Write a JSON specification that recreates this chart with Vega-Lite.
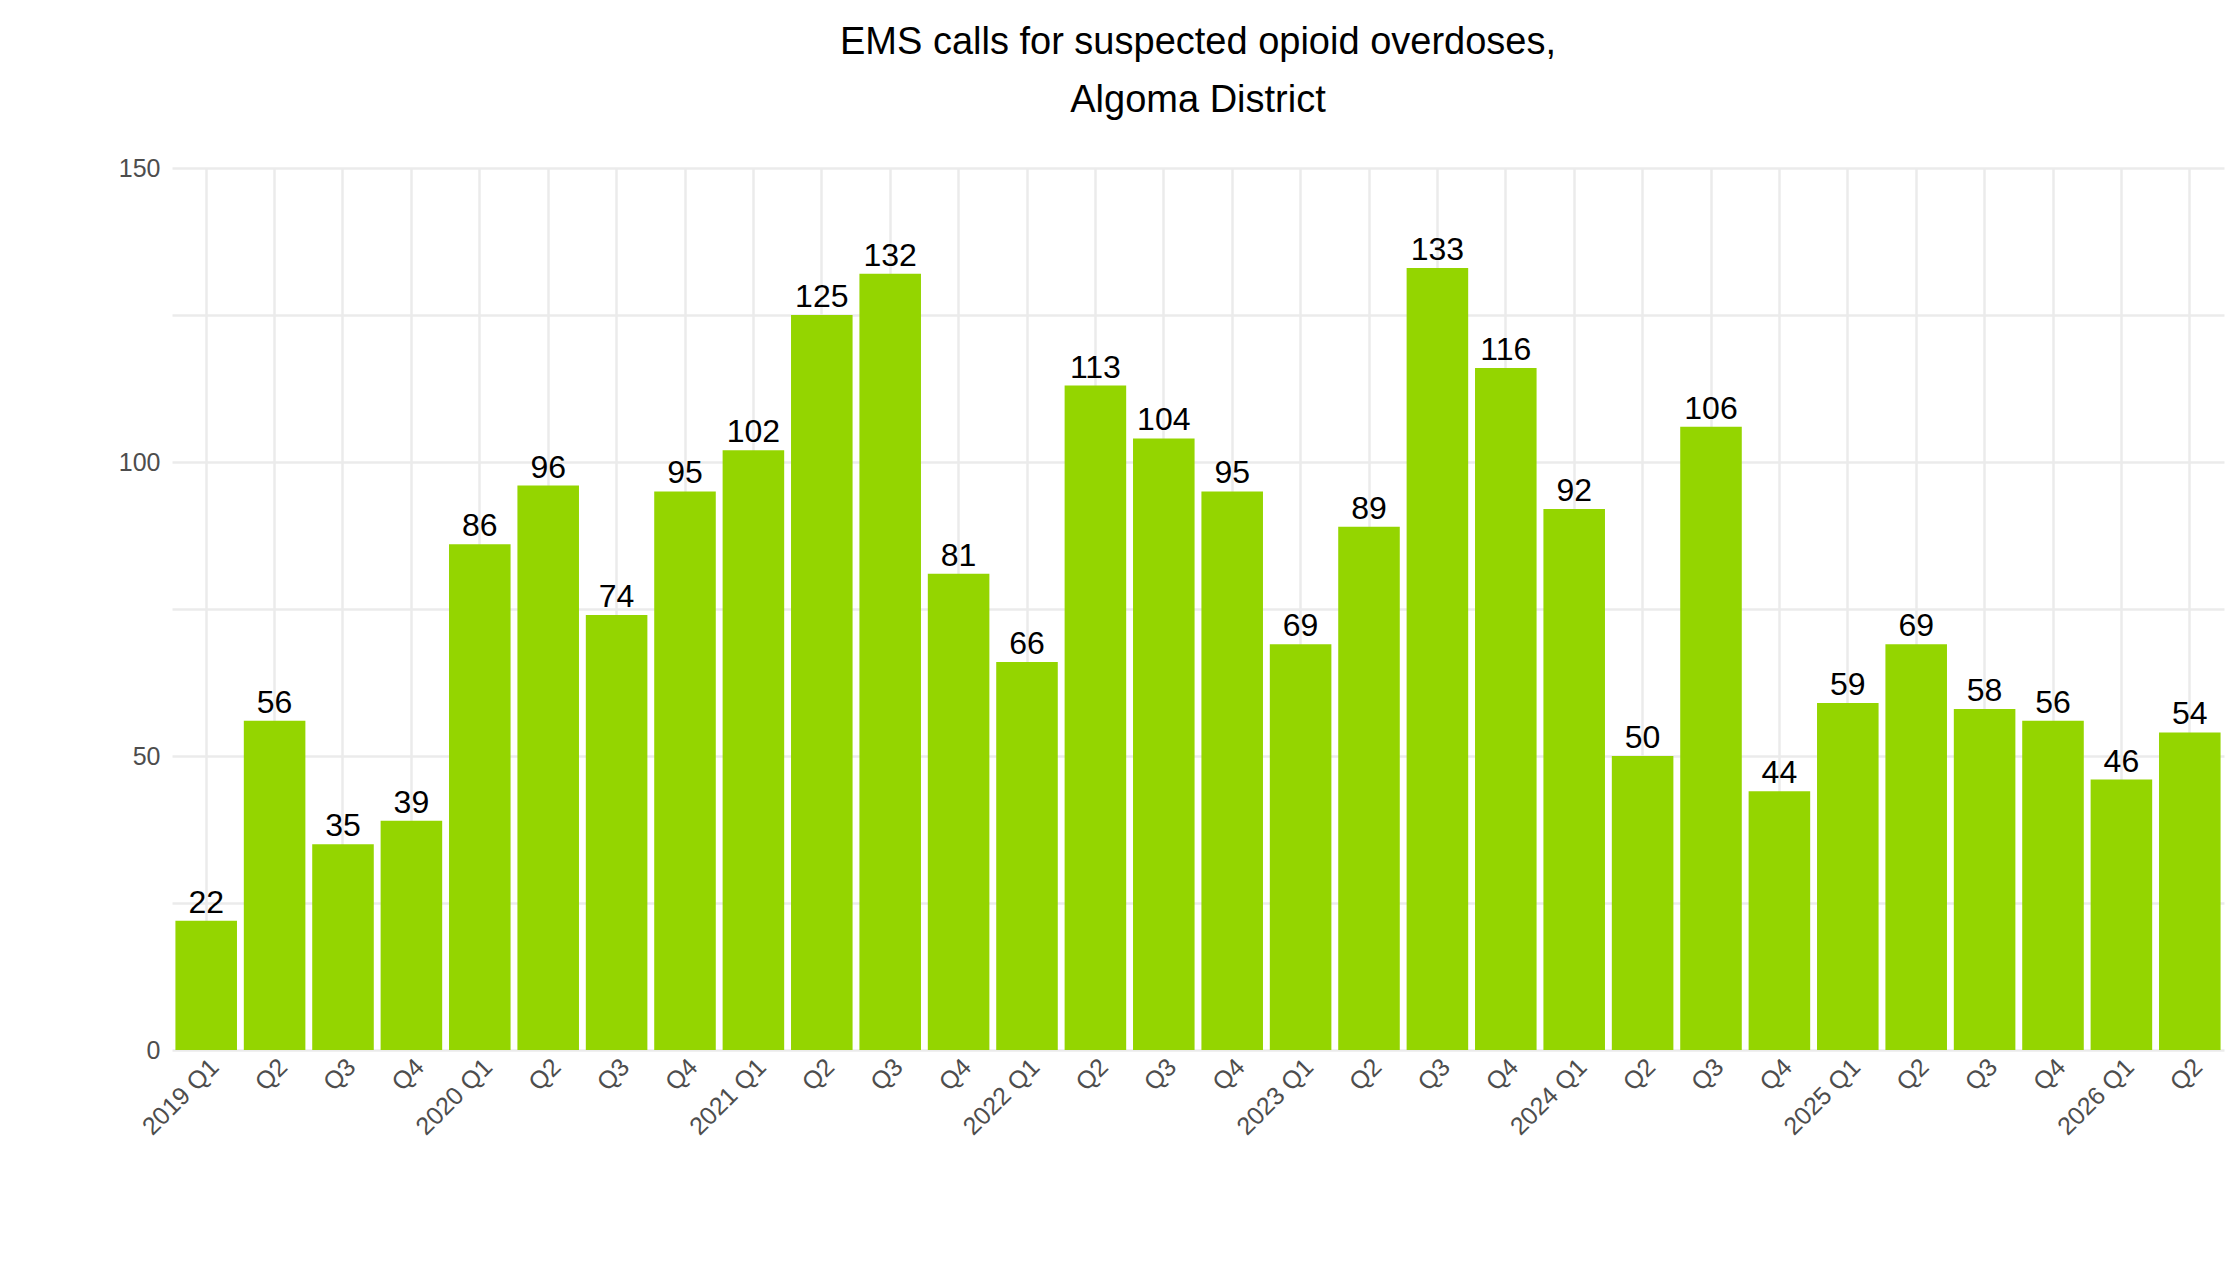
{
  "$schema": "https://vega.github.io/schema/vega-lite/v6.json",
  "autosize": "none",
  "width": 2052,
  "height": 882,
  "padding": {"left": 172, "top": 168, "right": 16, "bottom": 230},
  "background": "white",
  "title": {
    "text": ["EMS calls for suspected opioid overdoses,", "Algoma District"],
    "font": "Liberation Sans",
    "fontSize": 38,
    "fontWeight": "normal",
    "color": "#000000",
    "anchor": "middle",
    "lineHeight": 58,
    "offset": 36
  },
  "data": {
    "values": [
      {"period": "2019 Q1", "calls": 22}, {"period": "2019 Q2", "calls": 56},
      {"period": "2019 Q3", "calls": 35}, {"period": "2019 Q4", "calls": 39},
      {"period": "2020 Q1", "calls": 86}, {"period": "2020 Q2", "calls": 96},
      {"period": "2020 Q3", "calls": 74}, {"period": "2020 Q4", "calls": 95},
      {"period": "2021 Q1", "calls": 102}, {"period": "2021 Q2", "calls": 125},
      {"period": "2021 Q3", "calls": 132}, {"period": "2021 Q4", "calls": 81},
      {"period": "2022 Q1", "calls": 66}, {"period": "2022 Q2", "calls": 113},
      {"period": "2022 Q3", "calls": 104}, {"period": "2022 Q4", "calls": 95},
      {"period": "2023 Q1", "calls": 69}, {"period": "2023 Q2", "calls": 89},
      {"period": "2023 Q3", "calls": 133}, {"period": "2023 Q4", "calls": 116},
      {"period": "2024 Q1", "calls": 92}, {"period": "2024 Q2", "calls": 50},
      {"period": "2024 Q3", "calls": 106}, {"period": "2024 Q4", "calls": 44},
      {"period": "2025 Q1", "calls": 59}, {"period": "2025 Q2", "calls": 69},
      {"period": "2025 Q3", "calls": 58}, {"period": "2025 Q4", "calls": 56},
      {"period": "2026 Q1", "calls": 46}, {"period": "2026 Q2", "calls": 54}
    ]
  },
  "encoding": {
    "x": {
      "field": "period",
      "type": "ordinal",
      "sort": null,
      "title": null,
      "scale": {"paddingInner": 0.1, "paddingOuter": 0.05},
      "axis": {
        "labelExpr": "indexof(datum.value, 'Q1') >= 0 ? datum.value : substring(datum.value, 5)",
        "labelAngle": -45,
        "labelAlign": "right",
        "labelBaseline": "top",
        "labelFont": "Liberation Sans",
        "labelFontSize": 25,
        "labelColor": "#4d4d4d",
        "labelPadding": 4,
        "domain": false,
        "ticks": false,
        "grid": true,
        "gridColor": "#ebebeb",
        "gridWidth": 2.5
      }
    },
    "y": {
      "field": "calls",
      "type": "quantitative",
      "title": null,
      "scale": {"domain": [0, 150], "nice": false},
      "axis": {
        "values": [0, 25, 50, 75, 100, 125, 150],
        "labelExpr": "datum.value % 50 == 0 ? datum.label : ''",
        "labelFont": "Liberation Sans",
        "labelFontSize": 25,
        "labelColor": "#4d4d4d",
        "labelPadding": 12,
        "domain": false,
        "ticks": false,
        "gridColor": "#ebebeb",
        "gridWidth": 2.5
      }
    }
  },
  "layer": [
    {"mark": {"type": "bar", "color": "#94d500"}},
    {
      "mark": {
        "type": "text",
        "baseline": "bottom",
        "dy": -1,
        "font": "Liberation Sans",
        "fontSize": 32,
        "color": "#000000"
      },
      "encoding": {"text": {"field": "calls", "type": "quantitative"}}
    }
  ],
  "config": {"view": {"stroke": null}}
}
